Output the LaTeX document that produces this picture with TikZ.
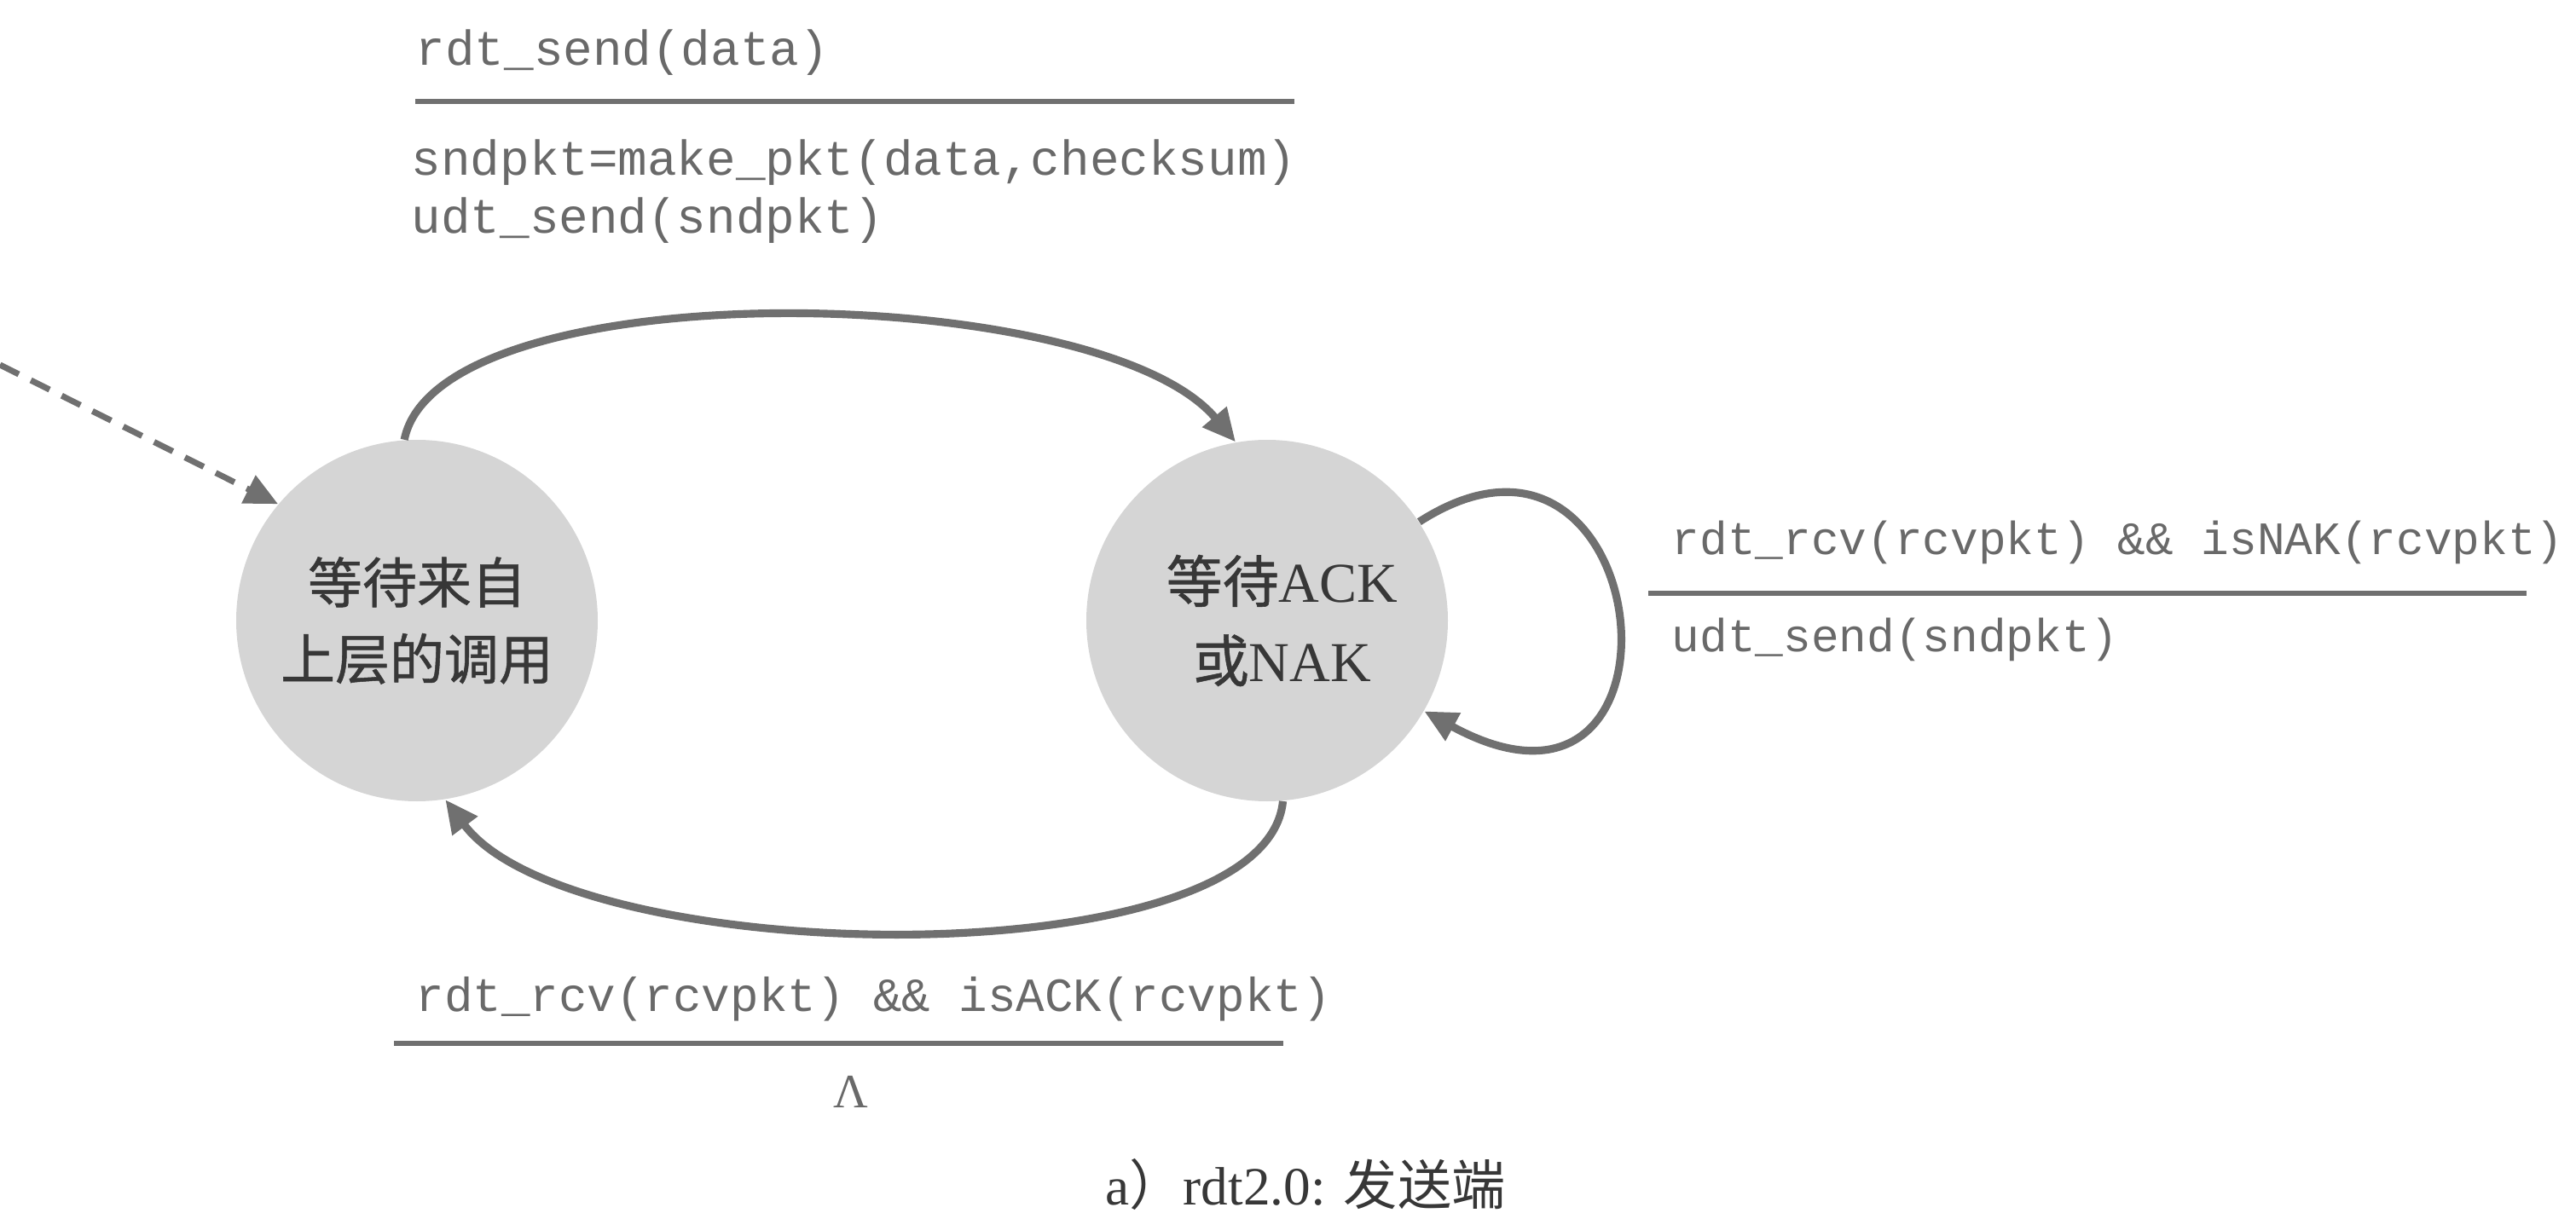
\documentclass[tikz,border=0pt]{standalone}
\usepackage{fontspec}
\setmainfont{Liberation Serif}
\setmonofont{Liberation Mono}
\newfontfamily\cjk{Noto Sans CJK SC}
\newfontfamily\cjkfat[FakeBold=0.8]{Noto Sans CJK SC}
\usetikzlibrary{arrows.meta}
\definecolor{stategray}{RGB}{213,213,213}
\definecolor{arcgray}{RGB}{112,112,112}
\definecolor{textgray}{RGB}{105,105,105}
\definecolor{labelgray}{RGB}{55,55,55}
\begin{document}
\begin{tikzpicture}[
    state/.style={circle, fill=stategray, minimum size=4.24cm, inner sep=0pt, align=center, text=labelgray, font=\fontsize{18.2}{25.5}\selectfont},
    act/.style={anchor=base west, inner sep=0pt, text=textgray, font=\fontsize{#1}{19}\selectfont\ttfamily},
    act/.default=16,
    trans/.style={arcgray, line width=2.6pt, -{Triangle[length=11pt,width=10pt]}},
    bar/.style={arcgray, line width=1.6pt}]
    \useasboundingbox (0,0) rectangle (30.21,14.22);
    \node[state] (wcall) at (4.89,6.94) {{\cjkfat 等待来自}\\{\cjkfat 上层的调用}};
    \node[state, font=\fontsize{18.8}{26.5}\selectfont] (wack) at (14.86,6.94) {\hspace*{0.35cm}{\cjkfat 等待}ACK\\\hspace*{0.35cm}{\cjkfat 或}NAK};
    \node[act=16.4] (sendev) at (4.87,13.45) {rdt\_send(data)};
    \draw[bar] (4.87,13.03) -- (15.18,13.03);
    \node[act=16.4] (mkpkt) at (4.82,12.16) {sndpkt=make\_pkt(data,checksum)};
    \node[act=16.4] (sendac) at (4.82,11.48) {udt\_send(sndpkt)};
    \node[act=15.5] (nakev) at (19.60,7.72) {rdt\_rcv(rcvpkt) \&\& isNAK(rcvpkt)};
    \draw[bar] (19.33,7.26) -- (29.63,7.26);
    \node[act=15.5] (nakac) at (19.60,6.57) {udt\_send(sndpkt)};
    \node[act=15.9] (ackev) at (4.87,2.36) {rdt\_rcv(rcvpkt) \&\& isACK(rcvpkt)};
    \draw[bar] (4.62,1.98) -- (15.05,1.98);
    \node[text=textgray, font=\fontsize{16}{18}\selectfont] (lam) at (9.98,1.41) {Λ};
    \node[anchor=base, inner sep=0pt, text=labelgray, font=\fontsize{18}{20}\selectfont] (cap) at (15.31,0.09) {a{\cjk ）}rdt2.0: {\cjk 发送端}};
    \coordinate (init) at (0,9.94);
    \draw[arcgray, line width=2pt, dash pattern=on 7pt off 4.5pt, -{Triangle[length=11pt,width=10pt]}] (init) -- (wcall.140);
    \draw[trans] (wcall.94) .. controls +(0.4,2.0) and +(-1.6,1.9) .. (wack.100);
    \draw[trans] (wack.-85) .. controls +(-0.2,-2.1) and +(1.5,-2.0) .. (wcall.-81);
    \draw[trans] (wack.33) .. controls +(2.8,1.8) and +(3.3,-1.8) .. (wack.-30);
\end{tikzpicture}
\end{document}
